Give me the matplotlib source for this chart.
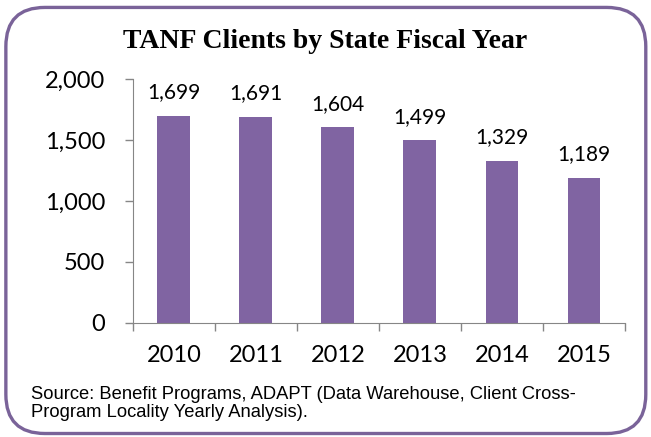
import matplotlib
matplotlib.use("Agg")
import matplotlib.pyplot as plt
from matplotlib.patches import FancyBboxPatch

years = ["2010", "2011", "2012", "2013", "2014", "2015"]
clients = [1699, 1691, 1604, 1499, 1329, 1189]
y_ticks = [0, 500, 1000, 1500, 2000]

BAR = "#8064A2"
AXIS = "#868686"

fig = plt.figure(figsize=(6.51, 4.37), dpi=100)
ax = fig.add_axes([0.204, 0.261, 0.756, 0.558])

x = range(len(years))
ax.bar(x, clients, width=0.4, color=BAR)
for xi, v in zip(x, clients):
    ax.text(xi, v + 110, f"{v:,}", ha="center", va="bottom",
            fontsize=15, family="Lato")

ax.set_xlim(-0.5, len(years) - 0.5)
ax.set_ylim(0, 2000)
ax.set_yticks(y_ticks)
ax.set_yticklabels([f"{t:,}" for t in y_ticks], fontsize=17, family="Lato")
ax.set_xticks(x)
ax.set_xticklabels(years, fontsize=17, family="Lato")
ax.tick_params(axis="x", length=0, pad=16)
ax.set_xticks([i - 0.5 for i in range(len(years) + 1)], minor=True)
ax.tick_params(axis="x", which="minor", length=6, color=AXIS, width=1)
ax.tick_params(axis="y", length=6, color=AXIS, width=1, pad=14)
for s in ("top", "right"):
    ax.spines[s].set_visible(False)
for s in ("left", "bottom"):
    ax.spines[s].set_color(AXIS)

fig.text(0.5, 0.904, "TANF Clients by State Fiscal Year", ha="center",
         va="center", fontsize=20, fontweight="bold", family="Liberation Serif")
fig.text(0.048, 0.077,
         "Source: Benefit Programs, ADAPT (Data Warehouse, Client Cross-\n"
         "Program Locality Yearly Analysis).",
         ha="left", va="center", fontsize=13.2, family="Liberation Sans",
         linespacing=1.05)

frame = FancyBboxPatch((0.009, 0.008), 0.983, 0.975,
                       boxstyle="round,pad=0,rounding_size=0.06",
                       transform=fig.transFigure, fill=False,
                       edgecolor="#7A6399", linewidth=2.4, mutation_aspect=651 / 437)
fig.patches.append(frame)

fig.savefig("out.png", dpi=100)
